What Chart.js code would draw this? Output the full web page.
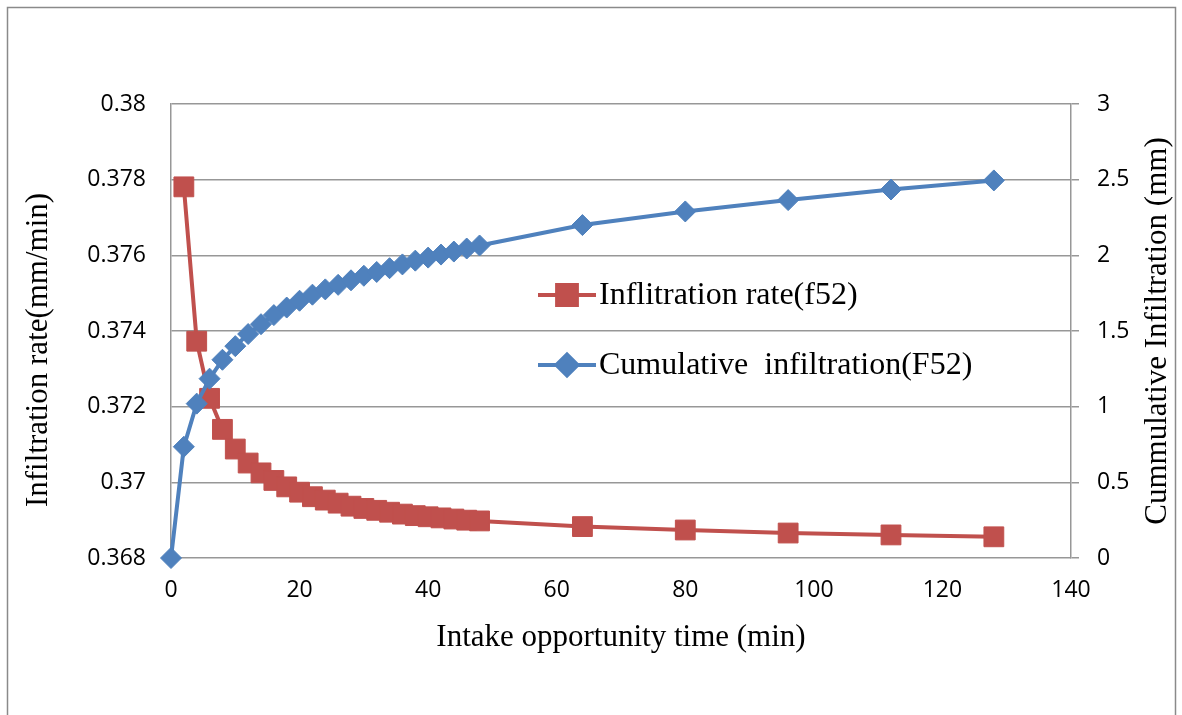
<!DOCTYPE html>
<html><head><meta charset="utf-8">
<script src="https://cdn.jsdelivr.net/npm/chart.js@4"></script>
<style>html,body{margin:0;padding:0;background:#fff;}</style>
</head><body>
<canvas id="c" width="1182" height="715"></canvas>
<script>
// ---- data ----
const rateTime = [2,4,6,8,10,12,14,16,18,20,22,24,26,28,30,32,34,36,38,40,42,44,46,48,64,80,96,112,128];
const rateValues = [0.37781,0.37373,0.37222,0.37140,0.37088,0.37051,0.37025,0.37005,0.36988,0.36974,0.36962,0.36953,0.36945,0.36937,0.36931,0.36926,0.36921,0.36916,0.36912,0.36909,0.36906,0.36903,0.36900,0.36898,0.36883,0.36874,0.36866,0.36861,0.36856];
const cumTime = [0,2,4,6,8,10,12,14,16,18,20,22,24,26,28,30,32,34,36,38,40,42,44,46,48,64,80,96,112,128];
const cumValues = [0,0.735,1.02,1.185,1.31,1.40,1.48,1.545,1.605,1.655,1.70,1.74,1.775,1.805,1.835,1.865,1.89,1.915,1.94,1.965,1.985,2.005,2.025,2.045,2.065,2.20,2.29,2.365,2.435,2.495];
const xTicks = [0,20,40,60,80,100,120,140];
const leftTicks = [0.368,0.37,0.372,0.374,0.376,0.378,0.38];
const rightTicks = [0,0.5,1,1.5,2,2.5,3];
const rateLabel = 'Inflitration rate(f52)';
const cumLabel = 'Cumulative  infiltration(F52)';
const xTitle = 'Intake opportunity time (min)';
const leftTitle = 'Infiltration rate(mm/min)';
const rightTitle = 'Cummulative Infiltration (mm)';

const RED = '#C0504D', BLUE = '#4F81BD', GRID = '#979797';
const SERIF = "'Liberation Serif','Times New Roman',serif";
const SANS = "'Open Sans','Liberation Sans',sans-serif";

const fixTicks = arr => scale => { scale.ticks = arr.map(v => ({value: v})); };

const decor = {
  id: 'decor',
  beforeDraw(chart) {
    const ctx = chart.ctx;
    ctx.save();
    ctx.fillStyle = '#fff';
    ctx.fillRect(0, 0, chart.width, chart.height);
    ctx.strokeStyle = '#8a8a8a';
    ctx.lineWidth = 1.5;
    ctx.strokeRect(7.5, 7.5, 1168, 800);
    ctx.restore();
  },
  afterDraw(chart) {
    const ctx = chart.ctx;
    ctx.save();
    ctx.fillStyle = '#000';
    ctx.font = '31px ' + SERIF;
    ctx.textAlign = 'center';
    ctx.textBaseline = 'middle';
    ctx.save(); ctx.translate(39, 350); ctx.rotate(-Math.PI/2); ctx.fillText(leftTitle, 0, 0); ctx.restore();
    ctx.save(); ctx.translate(1158, 331); ctx.rotate(-Math.PI/2); ctx.fillText(rightTitle, 0, 0); ctx.restore();
    const items = [
      {label: rateLabel, color: RED, style: 'rect', r: 14, y: 295},
      {label: cumLabel, color: BLUE, style: 'rectRot', r: 10.5, y: 365}
    ];
    items.forEach(it => {
      ctx.strokeStyle = it.color; ctx.lineWidth = 4; ctx.lineCap = 'butt';
      ctx.beginPath(); ctx.moveTo(538, it.y); ctx.lineTo(596, it.y); ctx.stroke();
      ctx.fillStyle = it.color;
      Chart.helpers.drawPoint(ctx, {pointStyle: it.style, radius: it.r, borderWidth: 1, rotation: 0}, 567, it.y);
      ctx.fill();
      ctx.fillStyle = '#000';
      ctx.font = '32px ' + SERIF;
      ctx.textAlign = 'left';
      ctx.textBaseline = 'middle';
      ctx.fillText(it.label, 599, it.y + 1);
    });
    ctx.restore();
  }
};

new Chart(document.getElementById('c'), {
  type: 'scatter',
  data: {
    datasets: [
      {
        label: cumLabel,
        data: cumTime.map((t, i) => ({x: t, y: cumValues[i]})),
        yAxisID: 'y2', showLine: true,
        borderColor: BLUE, backgroundColor: BLUE, borderWidth: 4,
        pointStyle: 'rectRot', pointRadius: 10.5, pointBorderWidth: 1,
        pointBackgroundColor: BLUE, pointBorderColor: BLUE,
        clip: false, order: 1
      },
      {
        label: rateLabel,
        data: rateTime.map((t, i) => ({x: t, y: rateValues[i]})),
        yAxisID: 'y', showLine: true,
        borderColor: RED, backgroundColor: RED, borderWidth: 4,
        pointStyle: 'rect', pointRadius: 14, pointBorderWidth: 1,
        pointBackgroundColor: RED, pointBorderColor: RED,
        clip: false, order: 2
      }
    ]
  },
  options: {
    responsive: false,
    animation: false,
    devicePixelRatio: 1,
    layout: {padding: {top: 104, left: 0, right: 0, bottom: 0}},
    plugins: {legend: {display: false}, tooltip: {enabled: false}},
    scales: {
      x: {
        type: 'linear', min: 0, max: 140,
        afterBuildTicks: fixTicks(xTicks),
        afterFit: s => { s.height = 157; },
        grid: {display: false, drawTicks: false},
        border: {display: false},
        ticks: {color: '#000', font: {family: SANS, size: 23}, padding: 19, maxRotation: 0, autoSkip: false},
        title: {display: true, text: xTitle, color: '#000', font: {family: SERIF, size: 31}, padding: {top: 0, bottom: 59}}
      },
      y: {
        position: 'left', min: 0.368, max: 0.38,
        afterBuildTicks: fixTicks(leftTicks),
        afterFit: s => { s.width = 171; },
        grid: {color: GRID, lineWidth: 1.5, drawTicks: false},
        border: {display: true, color: GRID, width: 1.5},
        ticks: {color: '#000', font: {family: SANS, size: 23}, padding: 25, autoSkip: false,
                callback: v => String(Number(v.toFixed(3)))}
      },
      y2: {
        position: 'right', min: 0, max: 3,
        afterBuildTicks: fixTicks(rightTicks),
        afterFit: s => { s.width = 111; },
        grid: {drawOnChartArea: false, color: GRID, lineWidth: 1.5, drawTicks: true, tickLength: 8},
        border: {display: true, color: GRID, width: 1.5},
        ticks: {color: '#000', font: {family: SANS, size: 23}, padding: 18, autoSkip: false,
                callback: v => String(Number(v.toFixed(1)))}
      }
    }
  },
  plugins: [decor]
});
</script>
</body></html>
